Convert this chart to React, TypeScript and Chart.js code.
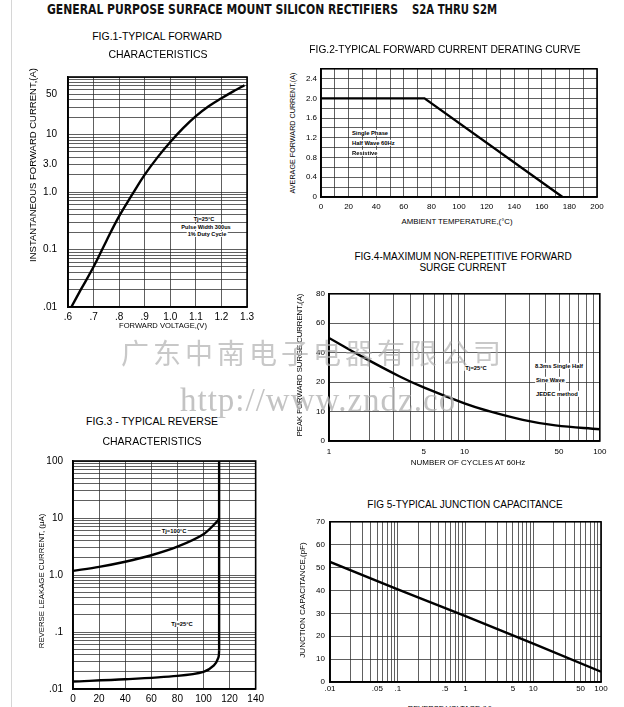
import React, { useEffect, useRef } from "react";
import { Chart, registerables } from "chart.js";
Chart.register(...registerables);

const SANS = "'Liberation Sans', Arial, Helvetica, sans-serif";

// ---------- Fig.1 typical forward characteristics ----------
const FIG1_VOLTAGE = [0.613, 0.65, 0.7, 0.75, 0.8, 0.85, 0.9, 0.95, 1.0, 1.05, 1.1, 1.15, 1.2, 1.25, 1.29];
const FIG1_CURRENT = [0.01, 0.02, 0.05, 0.141, 0.38, 0.89, 2.0, 4.0, 7.4, 12.9, 20.9, 31, 42.7, 57.5, 72];
const FIG1_X_LABELS = [".6", ".7", ".8", ".9", "1.0", "1.1", "1.2", "1.3"];
const FIG1_Y_TICK_VALUES = [0.01, 0.1, 1, 3, 10, 50];
const FIG1_Y_TICK_LABELS = [".01", "0.1", "1.0", "3.0", "10", "50"];

// ---------- Fig.2 forward current derating curve ----------
const FIG2_TEMP = [0, 75, 175];
const FIG2_CURRENT = [2.0, 2.0, 0];

// ---------- Fig.3 typical reverse characteristics ----------
const FIG3_V_100 = [0, 20, 40, 60, 80, 100, 110.5, 112];
const FIG3_I_100 = [1.18, 1.39, 1.71, 2.22, 3.14, 5.2, 8.7, 9.6];
const FIG3_V_25 = [0, 40, 80, 100, 108, 111.5, 112];
const FIG3_I_25 = [0.0135, 0.0148, 0.017, 0.02, 0.026, 0.036, 0.047];
const FIG3_KNEE_V = [112, 112];
const FIG3_KNEE_I = [0.047, 100];
const FIG3_Y_TICK_VALUES = [0.01, 0.1, 1, 10, 100];
const FIG3_Y_TICK_LABELS = [".01", ".1", "1.0", "10", "100"];

// ---------- Fig.4 non-repetitive surge current ----------
const FIG4_CYCLES = [1, 1.7, 3.3, 5, 10, 15, 27, 47, 100];
const FIG4_SURGE = [50, 38, 24, 18.2, 12.8, 10.2, 7.2, 5.3, 4.0];
const FIG4_Y_TICKS = [0, 10, 20, 40, 60, 80];
const FIG4_X_TICK_VALUES = [1, 5, 10, 50, 100];
const FIG4_X_TICK_LABELS = ["1", "5", "10", "50", "100"];

// ---------- Fig.5 junction capacitance ----------
const FIG5_VOLTAGE = [0.01, 0.1, 1, 10, 100];
const FIG5_CAP = [52.5, 40.5, 28.8, 16.8, 4.5];
const FIG5_X_TICK_VALUES = [0.01, 0.05, 0.1, 0.5, 1, 5, 10, 50, 100];
const FIG5_X_TICK_LABELS = [".01", ".05", ".1", ".5", "1", "5", "10", "50", "100"];

// ---------- helpers ----------
type Rect = { l: number; t: number; r: number; b: number };

function labelFor(values: number[], labels: string[], v: number) {
  for (let i = 0; i < values.length; i++) {
    if (Math.abs(v - values[i]) <= Math.abs(values[i]) * 1e-6) return labels[i];
  }
  return "";
}

function logGrid(min: number, max: number) {
  const out: number[] = [];
  const e0 = Math.round(Math.log10(min));
  const e1 = Math.round(Math.log10(max));
  for (let e = e0; e < e1; e++) {
    for (let k = 1; k <= 9; k++) out.push(parseFloat((k * Math.pow(10, e)).toPrecision(6)));
  }
  out.push(max);
  return out;
}

function surgePos(v: number) {
  for (let i = 1; i < FIG4_Y_TICKS.length; i++) {
    const a = FIG4_Y_TICKS[i - 1];
    const b = FIG4_Y_TICKS[i];
    if (v <= b) return i - 1 + (v - a) / (b - a);
  }
  return FIG4_Y_TICKS.length - 1;
}

function pts(xs: number[], ys: number[], f: (v: number) => number = (v) => v) {
  return xs.map((x, i) => ({ x, y: f(ys[i]) }));
}

const framePlugin = {
  id: "frame",
  beforeDatasetsDraw(chart: any) {
    const { ctx, chartArea } = chart;
    ctx.save();
    ctx.strokeStyle = "#000";
    ctx.lineWidth = 1.6;
    ctx.strokeRect(chartArea.left, chartArea.top, chartArea.right - chartArea.left, chartArea.bottom - chartArea.top);
    ctx.restore();
  },
};

const GRID = { color: "#2b2b2b", lineWidth: 0.75, drawTicks: false };
const BORDER = { display: true, color: "#000", width: 1.5 };

function curve(data: any[], tension = 0.4) {
  return {
    data,
    borderColor: "#000",
    borderWidth: 2.4,
    pointRadius: 0,
    fill: false,
    tension,
    cubicInterpolationMode: "default",
  };
}

function makeConfig(canvas: Rect, plot: Rect, xScale: any, yScale: any, datasets: any[]) {
  return {
    type: "line",
    data: { datasets },
    plugins: [framePlugin],
    options: {
      responsive: true,
      maintainAspectRatio: false,
      animation: false,
      events: [],
      layout: { padding: { left: 0, top: plot.t - canvas.t, right: canvas.r - plot.r, bottom: 0 } },
      plugins: { legend: { display: false }, tooltip: { enabled: false }, title: { display: false } },
      scales: {
        x: {
          position: "bottom",
          grid: GRID,
          border: BORDER,
          ...xScale,
          ticks: { autoSkip: false, maxRotation: 0, minRotation: 0, color: "#000", ...xScale.ticks },
          afterFit: (s: any) => {
            s.height = canvas.b - plot.b;
          },
        },
        y: {
          position: "left",
          grid: GRID,
          border: BORDER,
          ...yScale,
          ticks: { autoSkip: false, color: "#000", ...yScale.ticks },
          afterFit: (s: any) => {
            s.width = plot.l - canvas.l;
          },
        },
      },
    },
  };
}

function Panel({ canvas, plot, build }: { canvas: Rect; plot: Rect; build: () => { x: any; y: any; datasets: any[] } }) {
  const ref = useRef<HTMLCanvasElement>(null);
  useEffect(() => {
    const b = build();
    const chart = new Chart(ref.current as HTMLCanvasElement, makeConfig(canvas, plot, b.x, b.y, b.datasets) as any);
    return () => chart.destroy();
  }, []);
  return (
    <div style={{ position: "absolute", left: canvas.l, top: canvas.t, width: canvas.r - canvas.l, height: canvas.b - canvas.t }}>
      <canvas ref={ref} />
    </div>
  );
}

function Txt(props: {
  x: number;
  y: number;
  size: number;
  children: any;
  rot?: boolean;
  anchor?: "center" | "left";
  bold?: boolean;
  bg?: boolean;
  family?: string;
  color?: string;
  spacing?: number;
}) {
  const { x, y, size, children, rot, anchor = "center", bold, bg, family = SANS, color = "#000", spacing } = props;
  const tx = anchor === "center" ? "-50%" : "0";
  return (
    <div
      style={{
        position: "absolute",
        left: x,
        top: y,
        transform: `translate(${tx},-50%)${rot ? " rotate(-90deg)" : ""}`,
        fontSize: size,
        fontFamily: family,
        fontWeight: bold ? "bold" : "normal",
        color,
        lineHeight: 1.1,
        whiteSpace: "nowrap",
        background: bg ? "#fff" : "transparent",
        padding: bg ? "0 1px" : 0,
        letterSpacing: spacing ?? "normal",
      }}
    >
      {children}
    </div>
  );
}

const C1 = { canvas: { l: 28, t: 60, r: 258, b: 325 }, plot: { l: 68, t: 68, r: 249, b: 307 } };
const C2 = { canvas: { l: 298, t: 60, r: 610, b: 214 }, plot: { l: 321, t: 67, r: 597, b: 197 } };
const C3 = { canvas: { l: 30, t: 445, r: 268, b: 707 }, plot: { l: 73, t: 453, r: 256, b: 689 } };
const C4 = { canvas: { l: 303, t: 285, r: 612, b: 458 }, plot: { l: 329, t: 292, r: 600, b: 441 } };
const C5 = { canvas: { l: 303, t: 512, r: 612, b: 700 }, plot: { l: 330, t: 519, r: 601, b: 682 } };

export default function App() {
  return (
    <div style={{ position: "fixed", left: 0, top: 0, width: 624, height: 707, overflow: "hidden", background: "#fff", fontFamily: SANS }}>
      <div style={{ position: "absolute", left: 11, top: 0, width: 1, height: 707, background: "#d6d6d6" }} />

      <svg width={624} height={24} style={{ position: "absolute", left: 0, top: 0 }}>
        <text x={47} y={13.5} textLength={351} lengthAdjust="spacingAndGlyphs" fontFamily="'DejaVu Sans Condensed','Liberation Sans Narrow','Liberation Sans',sans-serif" fontWeight="bold" fontSize={14} fill="#111">
          GENERAL PURPOSE SURFACE MOUNT SILICON RECTIFIERS
        </text>
        <text x={412} y={13.5} textLength={85} lengthAdjust="spacingAndGlyphs" fontFamily="'DejaVu Sans Condensed','Liberation Sans Narrow','Liberation Sans',sans-serif" fontWeight="bold" fontSize={14} fill="#111">
          S2A THRU S2M
        </text>
      </svg>

      {/* Fig 1 */}
      <Panel
        {...C1}
        build={() => ({
          x: {
            type: "linear",
            min: 0.6,
            max: 1.3,
            ticks: { stepSize: 0.1, padding: 4, font: { size: 10, family: SANS }, callback: (v: number) => FIG1_X_LABELS[Math.round((v - 0.6) / 0.1)] ?? "" },
          },
          y: {
            type: "logarithmic",
            min: 0.01,
            max: 100,
            afterBuildTicks: (s: any) => {
              s.ticks = logGrid(0.01, 100).map((value) => ({ value }));
            },
            ticks: { padding: 11, font: { size: 10, family: SANS }, callback: (v: number) => labelFor(FIG1_Y_TICK_VALUES, FIG1_Y_TICK_LABELS, v) },
          },
          datasets: [curve(pts(FIG1_VOLTAGE, FIG1_CURRENT))],
        })}
      />
      {/* Fig 2 */}
      <Panel
        {...C2}
        build={() => ({
          x: {
            type: "linear",
            min: 0,
            max: 200,
            ticks: { stepSize: 10, padding: 5, font: { size: 8, family: SANS }, callback: (v: number) => (Math.round(v) % 20 === 0 ? String(Math.round(v)) : "") },
          },
          y: {
            type: "linear",
            min: 0,
            max: 2.6,
            ticks: {
              stepSize: 0.2,
              padding: 4,
              font: { size: 8, family: SANS },
              callback: (v: number) => {
                const k = Math.round(v * 10);
                if (k % 4 !== 0) return "";
                return k === 0 ? "0" : (k / 10).toFixed(1);
              },
            },
          },
          datasets: [curve(pts(FIG2_TEMP, FIG2_CURRENT), 0)],
        })}
      />
      {/* Fig 3 */}
      <Panel
        {...C3}
        build={() => ({
          x: {
            type: "linear",
            min: 0,
            max: 140,
            ticks: { stepSize: 20, padding: 4, font: { size: 10, family: SANS }, callback: (v: number) => String(Math.round(v)) },
          },
          y: {
            type: "logarithmic",
            min: 0.01,
            max: 100,
            afterBuildTicks: (s: any) => {
              s.ticks = logGrid(0.01, 100).map((value) => ({ value }));
            },
            ticks: { padding: 10, font: { size: 10, family: SANS }, callback: (v: number) => labelFor(FIG3_Y_TICK_VALUES, FIG3_Y_TICK_LABELS, v) },
          },
          datasets: [curve(pts(FIG3_V_100, FIG3_I_100), 0.3), curve(pts(FIG3_V_25, FIG3_I_25), 0.3), curve(pts(FIG3_KNEE_V, FIG3_KNEE_I), 0)],
        })}
      />
      {/* Fig 4 */}
      <Panel
        {...C4}
        build={() => ({
          x: {
            type: "logarithmic",
            min: 1,
            max: 100,
            afterBuildTicks: (s: any) => {
              s.ticks = logGrid(1, 100).map((value) => ({ value }));
            },
            ticks: { padding: 5.5, font: { size: 8, family: SANS }, callback: (v: number) => labelFor(FIG4_X_TICK_VALUES, FIG4_X_TICK_LABELS, v) },
          },
          y: {
            type: "linear",
            min: 0,
            max: FIG4_Y_TICKS.length - 1,
            ticks: { stepSize: 1, padding: 4, font: { size: 8, family: SANS }, callback: (v: number) => String(FIG4_Y_TICKS[Math.round(v)] ?? "") },
          },
          datasets: [curve(pts(FIG4_CYCLES, FIG4_SURGE, surgePos))],
        })}
      />
      {/* Fig 5 */}
      <Panel
        {...C5}
        build={() => ({
          x: {
            type: "logarithmic",
            min: 0.01,
            max: 100,
            afterBuildTicks: (s: any) => {
              s.ticks = logGrid(0.01, 100).map((value) => ({ value }));
            },
            ticks: { padding: 1.5, font: { size: 8, family: SANS }, callback: (v: number) => labelFor(FIG5_X_TICK_VALUES, FIG5_X_TICK_LABELS, v) },
          },
          y: {
            type: "linear",
            min: 0,
            max: 70,
            ticks: { stepSize: 10, padding: 5, font: { size: 8, family: SANS }, callback: (v: number) => String(Math.round(v)) },
          },
          datasets: [curve(pts(FIG5_VOLTAGE, FIG5_CAP), 0)],
        })}
      />

      {/* figure titles */}
      <Txt x={157} y={37} size={10.5}>FIG.1-TYPICAL FORWARD</Txt>
      <Txt x={158} y={55} size={10.5}>CHARACTERISTICS</Txt>
      <Txt x={445} y={50} size={10.2}>FIG.2-TYPICAL FORWARD CURRENT DERATING CURVE</Txt>
      <Txt x={463} y={256} size={10}>FIG.4-MAXIMUM NON-REPETITIVE FORWARD</Txt>
      <Txt x={463} y={267} size={10}>SURGE CURRENT</Txt>
      <Txt x={152} y={422} size={10.5}>FIG.3 - TYPICAL REVERSE</Txt>
      <Txt x={152} y={442} size={10.5}>CHARACTERISTICS</Txt>
      <Txt x={465} y={504} size={10}>FIG 5-TYPICAL JUNCTION CAPACITANCE</Txt>

      {/* axis titles */}
      <Txt x={33} y={165} size={9.5} rot>INSTANTANEOUS FORWARD CURRENT,(A)</Txt>
      <Txt x={163} y={326} size={7.6}>FORWARD VOLTAGE,(V)</Txt>
      <Txt x={293} y={133} size={7.2} rot>AVERAGE FORWARD CURRENT,(A)</Txt>
      <Txt x={457} y={222} size={7.8}>AMBIENT TEMPERATURE,(°C)</Txt>
      <Txt x={300} y={365} size={7.7} rot>PEAK FORWARD SURGE CURRENT,(A)</Txt>
      <Txt x={468} y={463} size={8}>NUMBER OF CYCLES AT 60Hz</Txt>
      <Txt x={42} y={581} size={7.8} rot>REVERSE LEAKAGE CURRENT, (μA)</Txt>
      <Txt x={303} y={600} size={8} rot>JUNCTION CAPACITANCE,(pF)</Txt>
      <Txt x={450} y={709} size={7.5}>REVERSE VOLTAGE,(V)</Txt>

      {/* in-plot notes */}
      <Txt x={204} y={219} size={5.6} bold bg>Tj=25°C</Txt>
      <Txt x={206} y={227} size={5.6} bold bg>Pulse Width 300us</Txt>
      <Txt x={207} y={234} size={5.6} bold bg>1% Duty Cycle</Txt>

      <Txt x={351} y={133} size={5.8} bold anchor="left" bg>Single Phase</Txt>
      <Txt x={351} y={143} size={5.8} bold anchor="left" bg>Half Wave 60Hz</Txt>
      <Txt x={351} y={153} size={5.8} bold anchor="left" bg>Resistive</Txt>

      <Txt x={476} y={368} size={5.8} bold bg>Tj=25°C</Txt>
      <Txt x={534} y={366} size={5.8} bold anchor="left" bg>8.3ms Single Half</Txt>
      <Txt x={535} y={380} size={5.8} bold anchor="left" bg>Sine Wave</Txt>
      <Txt x={535} y={394} size={5.8} bold anchor="left" bg>JEDEC method</Txt>

      <Txt x={174} y={531} size={5.8} bold bg>Tj=100°C</Txt>
      <Txt x={182} y={624} size={5.8} bold bg>Tj=25°C</Txt>

      {/* watermark */}
      <Txt x={121} y={352} size={28} anchor="left" family="'Noto Sans CJK SC', sans-serif" color="rgba(170,170,170,0.65)" spacing={4}>
        广东中南电子电器有限公司
      </Txt>
      <Txt x={180} y={400} size={33} anchor="left" family="'Liberation Serif', 'DejaVu Serif', serif" color="rgba(180,180,180,0.8)" spacing={1}>
        http://www.zndz.co
      </Txt>
    </div>
  );
}
